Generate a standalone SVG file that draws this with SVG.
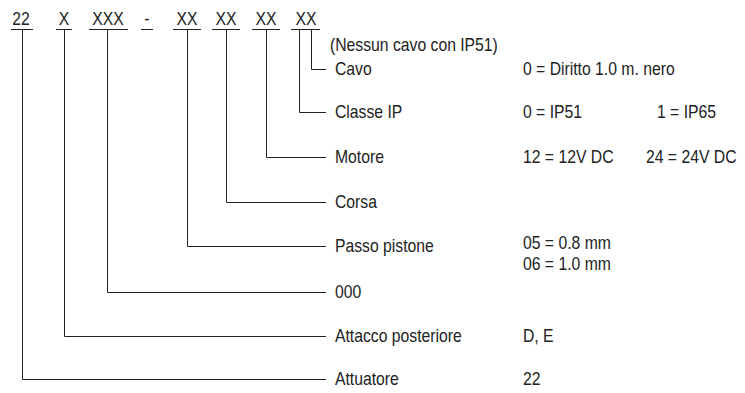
<svg xmlns="http://www.w3.org/2000/svg" width="745" height="393" viewBox="0 0 745 393">
<style>
text{font-family:"Liberation Sans",Arial,sans-serif;font-size:17.5px;fill:#222;transform-box:fill-box;transform-origin:0% 50%;transform:scaleX(0.9)}
text.c{transform-origin:50% 50%;text-anchor:middle}
.ln{stroke:#222;stroke-width:1;fill:none}
</style>
<rect width="745" height="393" fill="#fff"/>
<g id="code">
<text class="c" x="21" y="25">22</text>
<text class="c" x="64" y="25">X</text>
<text class="c" x="108" y="25">XXX</text>
<text class="c" x="147" y="25">-</text>
<text class="c" x="187" y="25">XX</text>
<text class="c" x="226" y="25">XX</text>
<text class="c" x="266" y="25">XX</text>
<text class="c" x="306" y="25">XX</text>
<path class="ln" d="M11 29.5H33M56 29.5H72M89 29.5H128M141 29.5H153M173 29.5H201M212 29.5H240M252 29.5H280M291 29.5H320"/>
</g>
<g id="connectors">
<path class="ln" d="M311.5 29.5V69.5H326"/>
<path class="ln" d="M299.5 29.5V112.5H326"/>
<path class="ln" d="M266.5 29.5V157.5H326"/>
<path class="ln" d="M226.5 29.5V202.5H326"/>
<path class="ln" d="M187.5 29.5V246.5H326"/>
<path class="ln" d="M107.5 29.5V292.5H326"/>
<path class="ln" d="M64.5 29.5V336.5H326"/>
<path class="ln" d="M22.5 29.5V379.5H326"/>
</g>
<g id="cavo">
<text x="330" y="51">(Nessun cavo con IP51)</text>
<text x="335" y="75">Cavo</text>
<text x="523" y="75">0 = Diritto 1.0 m. nero</text>
</g>
<g id="classe">
<text x="335" y="118">Classe IP</text>
<text x="523" y="118">0 = IP51</text>
<text x="657" y="118">1 = IP65</text>
</g>
<g id="motore">
<text x="335" y="163">Motore</text>
<text x="523" y="163">12 = 12V DC</text>
<text x="646" y="163">24 = 24V DC</text>
</g>
<g id="corsa">
<text x="335" y="208">Corsa</text>
</g>
<g id="passo">
<text x="335" y="252">Passo pistone</text>
<text x="523" y="249">05 = 0.8 mm</text>
<text x="523" y="270">06 = 1.0 mm</text>
</g>
<g id="zero">
<text x="335" y="298">000</text>
</g>
<g id="attacco">
<text x="335" y="342">Attacco posteriore</text>
<text x="523" y="342">D, E</text>
</g>
<g id="attuatore">
<text x="335" y="385">Attuatore</text>
<text x="523" y="385">22</text>
</g>
</svg>
